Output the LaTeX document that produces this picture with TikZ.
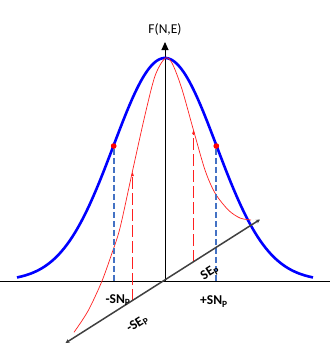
\documentclass[tikz,border=0pt]{standalone}
\usepackage{fontspec}
\setmainfont{Carlito}
\usetikzlibrary{arrows.meta}
\definecolor{dashblue}{HTML}{4472C4}
\definecolor{axisgray}{HTML}{404040}
\definecolor{skewred}{HTML}{FF2020}
\tikzset{
  gauss/.style={blue, line width=2.6pt},
  skew/.style={skewred, line width=0.7pt},
  bluedash/.style={dashblue, line width=1.8pt, dash pattern=on 6pt off 3pt},
  reddash/.style={skewred, line width=1.4pt, dash pattern=on 12pt off 4pt, -{Latex[length=5pt,width=3pt]}},
  axisline/.style={black, line width=0.9pt},
  diag/.style={axisgray, line width=1.5pt, {Stealth[length=4pt,width=4pt]}-{Stealth[length=4pt,width=4pt]}},
  reddot/.style={circle, fill=red, inner sep=0pt, minimum size=5.5pt},
  lab/.style={font=\fontsize{13.5}{15}\selectfont\bfseries, inner sep=0pt},
}
\begin{document}
\begin{tikzpicture}[x=1pt, y=-1pt]
\useasboundingbox (0,0) rectangle (330,354);
% coordinates
\coordinate (O) at (165,281);
\coordinate (xl) at (0,281);
\coordinate (xr) at (330,281);
\coordinate (ytop) at (165,42);
\coordinate (dl) at (65.5,343);
\coordinate (dr) at (260,219.5);
\coordinate (rLt) at (132.5,171);
\coordinate (rLb) at (132.5,300.5);
\coordinate (rRt) at (193.5,129);
\coordinate (rRb) at (193.5,262);
% axes
\draw[axisline] (xl) -- (xr);
\draw[axisline, -{Triangle[length=8pt,width=7pt]}] (O) -- (ytop);
\node[font=\fontsize{13.5}{15}\selectfont, inner sep=0pt] (F) at (165,29) {F(N,E)};
% inflection points
\node[reddot] (pL) at (113.7,146) {};
\node[reddot] (pR) at (216.3,146) {};
% gaussian
\draw[gauss] plot[domain=17:313, samples=120, smooth] (\x, {281-223*exp(-0.5*((\x-165)/51.5)^2)});
% red skewed curve
\draw[skew] plot[smooth, tension=0.5] coordinates {
  (74,332.3) (88,311) (101.7,281.7) (112,253) (120,228) (132.3,172) (145,115)
  (155,76) (165,58.3) (172,63) (181.7,88.3) (193.3,129.5) (205,170) (215,193)
  (228.3,210) (240,218) (251,220)};
% blue dashed lines
\draw[bluedash] (pL.south) -- (pL |- O);
\draw[bluedash] (pR.south) -- (pR |- O);
\node[reddot] at (pL) {};
\node[reddot] at (pR) {};
% red dashed arrows
\draw[reddash] (rLb) -- (rLt);
\draw[reddash] (rRb) -- (rRt);
% diagonal axis
\draw[diag] (dl) -- (dr);
% labels
\node[lab] (snm) at (118,300) {-SN\textsubscript{P}};
\node[lab] (snp) at (214,301.5) {+SN\textsubscript{P}};
\node[lab, rotate=32] (sep) at (210,272.5) {SE\textsubscript{P}};
\node[lab, rotate=32] (sem) at (137.5,324) {-SE\textsubscript{P}};
\end{tikzpicture}
\end{document}
